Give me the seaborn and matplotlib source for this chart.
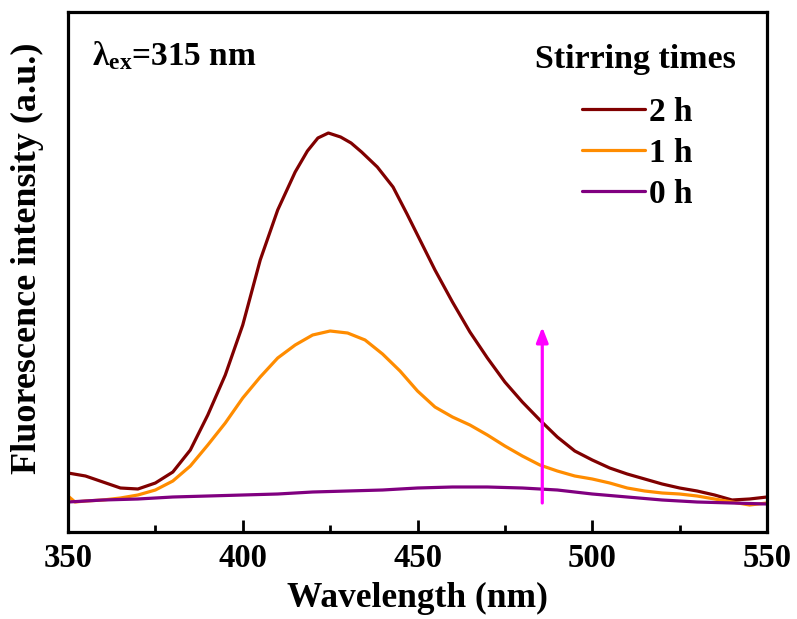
import numpy as np
import pandas as pd
import matplotlib
matplotlib.use("Agg")
import matplotlib.pyplot as plt
import seaborn as sns

# emission spectra (arbitrary units)
wl_2h = [350, 355, 360, 365, 370, 375, 380, 385, 390, 395, 400, 405, 410, 415,
         418.5, 421.5, 424.5, 428, 431, 434, 438.5, 443, 447, 451, 455, 460, 465,
         470, 475, 480, 485, 490, 495, 500, 505, 510, 515, 520, 525, 530, 535,
         540, 545, 550]
int_2h = [59, 56, 50, 44, 43, 49, 60, 82, 117, 157, 207, 272, 322, 360,
          381, 394, 399, 395, 389, 380, 365, 345, 318, 290, 262, 230, 200,
          174, 150, 130, 112, 95, 81, 72, 64, 58, 53, 48, 44, 41, 37,
          32, 33, 35]

wl_1h = [350, 352, 355, 360, 365, 370, 375, 380, 385, 390, 395, 400, 405, 410,
         415, 420, 425, 430, 435, 440, 445, 450, 455, 460, 465, 470, 475, 480,
         485, 490, 495, 500, 505, 510, 515, 520, 525, 530, 535, 540, 545, 550]
int_1h = [36, 30, 31, 32, 34, 37, 42, 51, 66, 87, 109, 134, 155, 174,
          187, 197, 201, 199, 192, 178, 161, 141, 125, 115, 107, 97, 86, 76,
          67, 61, 56, 53, 49, 44, 41, 39, 38, 36, 33, 30, 27, 29]

wl_0h = [350, 360, 370, 380, 390, 400, 410, 420, 430, 440, 450, 460, 470, 480,
         490, 500, 510, 520, 530, 540, 550]
int_0h = [30, 32, 33, 35, 36, 37, 38, 40, 41, 42, 44, 45, 45, 44,
          42, 38, 35, 32, 30, 29, 28]

labels = ["2 h", "1 h", "0 h"]
colors = ["#800000", "#FF8C00", "#800080"]

arrow_x = 485.7
arrow_from, arrow_to = 29, 205

df = pd.concat([
    pd.DataFrame({"Wavelength": wl_2h, "Intensity": int_2h, "time": "2 h"}),
    pd.DataFrame({"Wavelength": wl_1h, "Intensity": int_1h, "time": "1 h"}),
    pd.DataFrame({"Wavelength": wl_0h, "Intensity": int_0h, "time": "0 h"}),
])

sns.set_style("white")
plt.rcParams['font.family'] = ['Liberation Serif', 'DejaVu Serif']
plt.rcParams['font.weight'] = 'bold'
plt.rcParams['axes.labelweight'] = 'bold'
plt.rcParams['text.color'] = 'black'
plt.rcParams['axes.labelcolor'] = 'black'
plt.rcParams['xtick.color'] = 'black'
plt.rcParams['mathtext.fontset'] = 'custom'
plt.rcParams['mathtext.rm'] = 'Liberation Serif:bold'
plt.rcParams['mathtext.bf'] = 'Liberation Serif:bold'
plt.rcParams['mathtext.it'] = 'Liberation Serif:bold'

fig = plt.figure(figsize=(7.97, 6.19), dpi=100)
ax = fig.add_axes([68 / 797, 1 - 532 / 619, 699 / 797, 520 / 619])

sns.lineplot(data=df, x="Wavelength", y="Intensity", hue="time",
             hue_order=labels, palette=dict(zip(labels, colors)),
             linewidth=2.3, ax=ax, sort=False, legend=True)
for line in ax.lines:
    line.set_solid_joinstyle('round')
    line.set_solid_capstyle('round')

ax.annotate("", xy=(arrow_x, arrow_to), xytext=(arrow_x, arrow_from),
            arrowprops=dict(arrowstyle="-|>,head_length=0.9,head_width=0.35",
                            color="#FF00FF", lw=2.3, shrinkA=0, shrinkB=0))

ax.set_xlim(350, 550)
ax.set_ylim(0, 520)
ax.set_xticks([350, 400, 450, 500, 550])
ax.set_xticks([375, 425, 475, 525], minor=True)
ax.set_yticks([])
ax.tick_params(axis='x', which='major', bottom=True, direction='in',
               length=9, width=2, labelsize=23.5, pad=8)
ax.tick_params(axis='x', which='minor', bottom=True, direction='in',
               length=5, width=2)
for sp in ax.spines.values():
    sp.set_linewidth(2.3)
    sp.set_color("black")

ax.set_xlabel("Wavelength (nm)", fontsize=25.5, fontweight='bold', labelpad=6)
ax.set_ylabel("Fluorescence intensity (a.u.)", fontsize=26,
              fontweight='bold')
ax.yaxis.set_label_coords(-0.035, 0.527)

ax.text(0.035, 0.898, r"$\mathrm{\lambda}_{\mathrm{ex}}$=315 nm",
        transform=ax.transAxes, fontsize=24, fontweight='bold',
        ha='left', va='baseline')
ax.text(0.812, 0.893, "Stirring times", transform=ax.transAxes,
        fontsize=24.5, fontweight='bold', ha='center', va='baseline')

leg = ax.legend(loc="upper left", frameon=False, fontsize=24,
                handlelength=1.9, handletextpad=0.12, labelspacing=0.3,
                bbox_to_anchor=((582 - 68) / 699, (532 - 97) / 520),
                borderaxespad=0, borderpad=0)
for line in leg.get_lines():
    line.set_linewidth(2.3)

fig.savefig("out.png", dpi=100)
